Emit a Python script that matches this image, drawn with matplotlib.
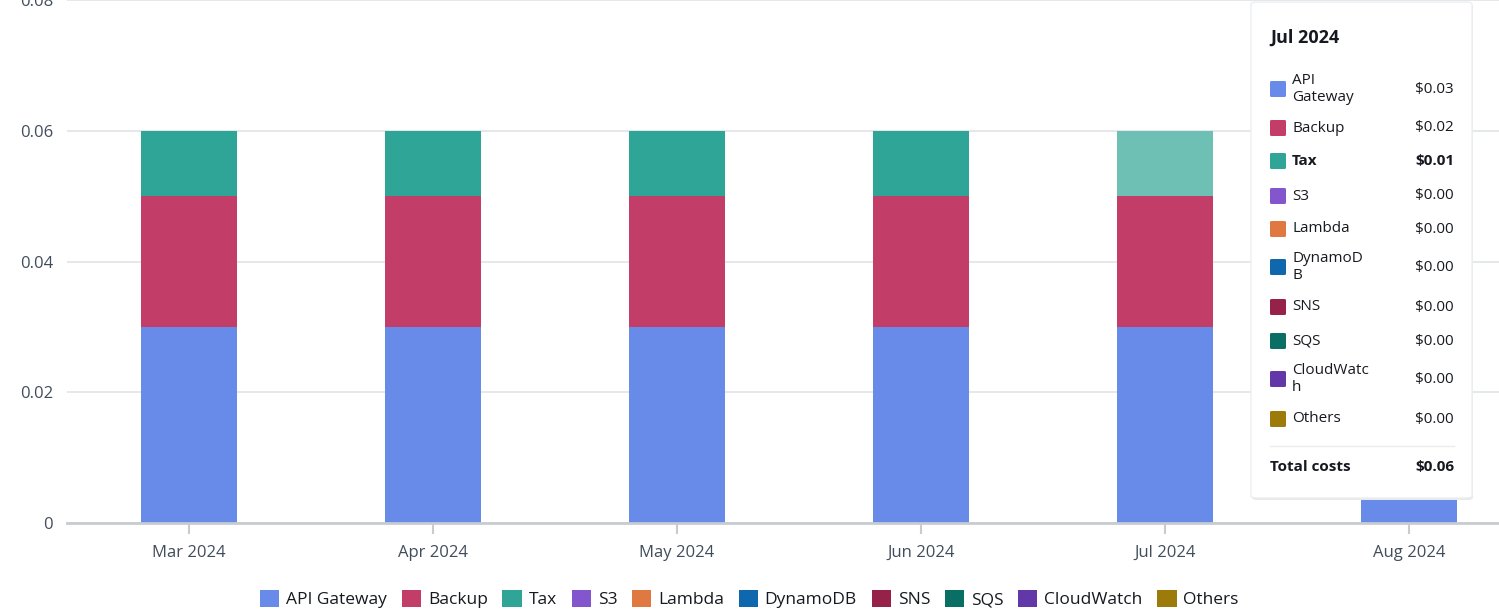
import matplotlib
matplotlib.use("Agg")
import matplotlib.pyplot as plt
from matplotlib.patches import FancyBboxPatch, Patch
from matplotlib.lines import Line2D
import numpy as np

plt.rcParams['font.family'] = ['Open Sans', 'DejaVu Sans']

# data
months = ['Mar 2024', 'Apr 2024', 'May 2024', 'Jun 2024', 'Jul 2024', 'Aug 2024']
services = ['API Gateway', 'Backup', 'Tax', 'S3', 'Lambda', 'DynamoDB', 'SNS', 'SQS', 'CloudWatch', 'Others']
api_gateway = [0.03, 0.03, 0.03, 0.03, 0.03, 0.03]
backup = [0.02, 0.02, 0.02, 0.02, 0.02, 0.02]
tax = [0.01, 0.01, 0.01, 0.01, 0.01, 0.01]
s3 = [0, 0, 0, 0, 0, 0]
lambda_ = [0, 0, 0, 0, 0, 0]
dynamodb = [0, 0, 0, 0, 0, 0]
sns_ = [0, 0, 0, 0, 0, 0]
sqs = [0, 0, 0, 0, 0, 0]
cloudwatch = [0, 0, 0, 0, 0, 0]
others = [0, 0, 0, 0, 0, 0]
series = [api_gateway, backup, tax, s3, lambda_, dynamodb, sns_, sqs, cloudwatch, others]
colors = ['#688ae8', '#c33d69', '#2ea597', '#8456ce', '#e07941',
          '#0f68ae', '#962249', '#096f64', '#6237a7', '#9c7b0b']
y_ticks = [0, 0.02, 0.04, 0.06, 0.08]
y_labels = ['0', '0.02', '0.04', '0.06', '0.08']
hover_month = 'Jul 2024'
hover_service = 'Tax'

W, H = 1499, 612
fig = plt.figure(figsize=(W / 100, H / 100), dpi=100)
fig.patch.set_facecolor('white')

# axes runs past the right edge like the original page
ax = fig.add_axes([67 / W, 89 / H, (1531 - 67) / W, 523 / H])
x = np.arange(len(months))
bottom = np.zeros(len(months))
hi = months.index(hover_month)
for name, vals, c in zip(services, series, colors):
    bars = ax.bar(x, vals, width=0.393, bottom=bottom, color=c, zorder=3)
    if name == hover_service:
        bars[hi].set_facecolor('#6fc0b4')
    bottom += np.array(vals)

ax.set_xlim(-0.5, len(months) - 0.5)
ax.set_ylim(0, 0.08)
ax.set_yticks(y_ticks)
ax.set_yticklabels(y_labels)
ax.set_xticks(x)
ax.set_xticklabels(months)
ax.grid(axis='y', color='#e3e6e8', linewidth=1.3, zorder=0)
for s in ['top', 'right', 'left']:
    ax.spines[s].set_visible(False)
ax.spines['bottom'].set_color('#c6ccd2')
ax.spines['bottom'].set_linewidth(2)
ax.spines['bottom'].set_zorder(4)
ax.tick_params(axis='y', length=0, pad=10, labelsize=12, labelcolor='#414d5c')
ax.tick_params(axis='x', length=8, width=1.5, color='#c6ccd2', pad=8,
               labelsize=12, labelcolor='#414d5c')

# legend below
handles = [Patch(facecolor=c, edgecolor='none') for c in colors]
leg = fig.legend(handles, services, loc='center', bbox_to_anchor=(0.5, 13 / H), ncol=10,
                 frameon=False, fontsize=12.5, handlelength=1.1, handleheight=1.1,
                 handletextpad=0.4, columnspacing=0.85, labelcolor='#16191f')


def fp(px, py):
    return px / W, 1 - py / H


# tooltip box
bx0, by0, bx1, by1 = 1251, 2, 1472, 498
shadow = FancyBboxPatch(fp(bx0 + 1, by1 + 2), (bx1 - bx0) / W, (by1 - by0) / H,
                        boxstyle='round,pad=0,rounding_size=0.004', transform=fig.transFigure,
                        facecolor='#e6e8ea', edgecolor='none', zorder=9)
fig.patches.append(shadow)
box = FancyBboxPatch(fp(bx0, by1), (bx1 - bx0) / W, (by1 - by0) / H,
                     boxstyle='round,pad=0,rounding_size=0.004', transform=fig.transFigure,
                     facecolor='white', edgecolor='#eceef0', linewidth=1, zorder=10)
fig.patches.append(box)

fig.text(*fp(1270, 38), hover_month, fontsize=13, fontweight='bold', color='#16191f',
         va='center', ha='left', zorder=11)

row_y = [89, 128, 161, 196, 229, 267, 307, 341, 379, 419]
row_lbl = {'API Gateway': 'API\nGateway', 'DynamoDB': 'DynamoD\nB', 'CloudWatch': 'CloudWatc\nh'}
total = 0
for name, vals, c, ry in zip(services, series, colors, row_y):
    v = vals[hi]
    total += v
    sw = FancyBboxPatch(fp(1270, ry + 8), 16 / W, 16 / H,
                        boxstyle='round,pad=0,rounding_size=0.0015', transform=fig.transFigure,
                        facecolor=c, edgecolor='none', zorder=11)
    fig.patches.append(sw)
    wt = 'bold' if name == hover_service else 'normal'
    fig.text(*fp(1292, ry), row_lbl.get(name, name), fontsize=11, color='#16191f',
             va='center', ha='left', fontweight=wt, linespacing=1.15, zorder=11)
    fig.text(*fp(1454, ry), f'${v:.2f}', fontsize=11, color='#16191f',
             va='center', ha='right', fontweight=wt, zorder=11)

fig.add_artist(Line2D([1270 / W, 1454 / W], [1 - 446 / H, 1 - 446 / H],
                      transform=fig.transFigure, color='#e9ebed', linewidth=1, zorder=11))
fig.text(*fp(1270, 467), 'Total costs', fontsize=11, fontweight='bold', color='#16191f',
         va='center', ha='left', zorder=11)
fig.text(*fp(1454, 467), f'${total:.2f}', fontsize=11, fontweight='bold', color='#16191f',
         va='center', ha='right', zorder=11)

fig.savefig('out.png', dpi=100)
